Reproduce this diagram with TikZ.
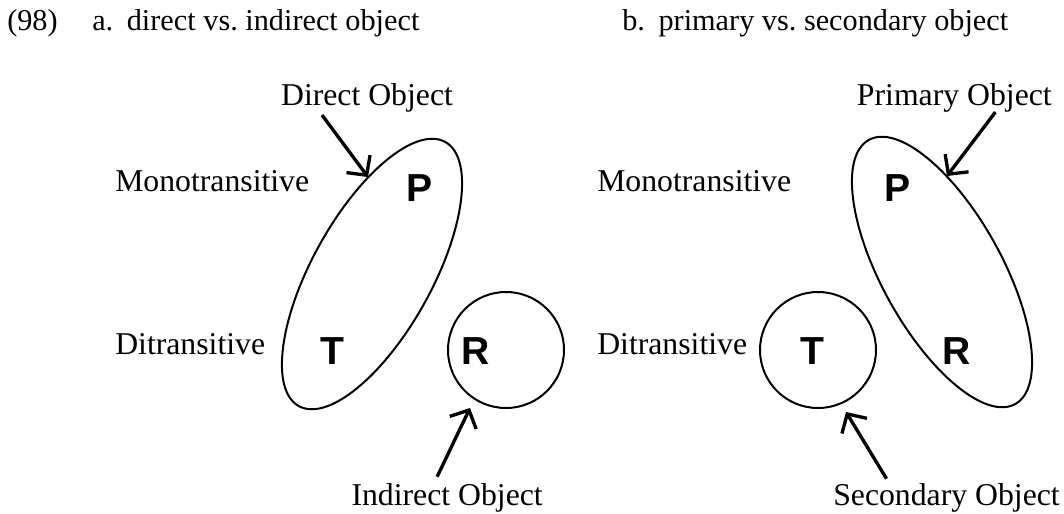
\documentclass[tikz,border=0pt]{standalone}
\usepackage{fontspec}
\setmainfont{Liberation Serif}
\newfontfamily\rolefont{Liberation Sans}
\usetikzlibrary{arrows.meta, shapes.geometric, calc}
\frenchspacing

\begin{document}
\begin{tikzpicture}[x=0.75pt, y=-0.75pt,
    term/.style={inner sep=0pt, font=\fontsize{23.8}{28}\selectfont},
    headline/.style={inner sep=0pt, anchor=base west, font=\fontsize{22.7}{27}\selectfont},
    role/.style={inner sep=0pt, font=\rolefont\bfseries\fontsize{29.3}{34}\selectfont},
    ovalbox/.style={ellipse, draw, line width=1.5pt, inner sep=0pt, minimum width=226.5pt, minimum height=90pt},
    ringbox/.style={circle, draw, line width=1.5pt, inner sep=0pt, minimum size=87pt},
    arrow/.style={-{Straight Barb[length=10.5pt, width=22pt]}, line width=2.5pt},
  ]
  \useasboundingbox (0,0) rectangle (1064,514);

  % headings
  \node[headline] (num) at (7,30) {(98)};
  \node[headline] (heada) at (92,30) {a.\hspace{0.45em}direct vs. indirect object};
  \node[headline] (headb) at (622,30) {b.\hspace{0.45em}primary vs. secondary object};

  % (a) direct vs. indirect
  \node[term, anchor=base west] (mono-a) at (115,191) {Monotransitive};
  \node[term, anchor=base west] (ditr-a) at (115,354) {Ditransitive};
  \node[ovalbox, rotate=61] (pt-a) at (372,274) {};
  \node[ringbox] (r-a) at (506,350) {};
  \node[role] (p-a) at (420,188) {P};
  \node[role] (t-a) at (332,351) {T};
  \node[role] (rr-a) at (476,351) {R};
  \node[term, anchor=base] (do) at (367,105) {Direct Object};
  \node[term, anchor=base east] (io) at (543,505) {Indirect Object};
  \coordinate (do-tip) at (368,177);
  \coordinate (io-tip) at (470,408);
  \draw[arrow] ($(do.south)+(-45,3)$) -- (do-tip);
  \draw[arrow] ($(io.north)+(-10,-6)$) -- (io-tip);

  % (b) primary vs. secondary
  \node[term, anchor=base west] (mono-b) at (597,191) {Monotransitive};
  \node[term, anchor=base west] (ditr-b) at (597,354) {Ditransitive};
  \node[ovalbox, rotate=-61] (pr-b) at (942,272) {};
  \node[ringbox] (t-b) at (818,350) {};
  \node[role] (p-b) at (898,188) {P};
  \node[role] (tt-b) at (812,351) {T};
  \node[role] (rr-b) at (957,351) {R};
  \node[term, anchor=base east] (po) at (1052,105) {Primary Object};
  \node[term, anchor=base east] (so) at (1060,505) {Secondary Object};
  \coordinate (po-tip) at (947,176);
  \coordinate (so-tip) at (846,412);
  \draw[arrow] ($(po.south)+(41,0)$) -- (po-tip);
  \draw[arrow] ($(so.north)+(-60,-4)$) -- (so-tip);
\end{tikzpicture}
\end{document}
